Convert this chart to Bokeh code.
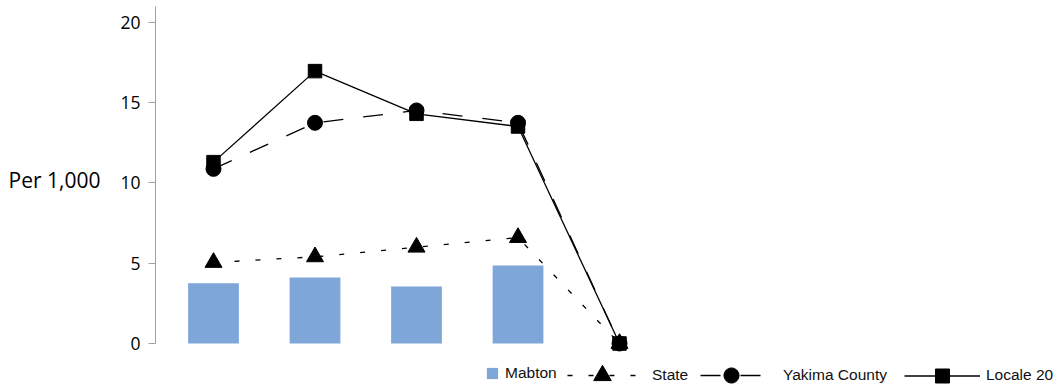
from bokeh.plotting import figure
from bokeh.models import Range1d, FixedTicker, Legend, LegendItem, Label
from bokeh.embed import file_html
from bokeh.resources import INLINE

# ---- data ----
periods = [1, 2, 3, 4, 5]
mabton = [3.76, 4.11, 3.55, 4.86, 0.0]
state = [5.05, 5.4, 6.0, 6.6, 0.0]
yakima = [10.88, 13.75, 14.52, 13.75, 0.0]
locale20 = [11.3, 16.97, 14.31, 13.52, 0.0]
y_ticks = [0, 5, 10, 15, 20]
y_label = "Per 1,000"
series_names = ["Mabton", "State", "Yakima County", "Locale 20"]

BAR = "#7ea6d8"
AXIS = "#a0a0a0"

p = figure(width=1056, height=388,
           x_range=Range1d(0.4286, 9.305), y_range=Range1d(-2.804, 21.37),
           output_backend="svg", toolbar_location=None,
           min_border_left=155, min_border_right=0, min_border_top=0, min_border_bottom=0)
p.outline_line_color = None
p.grid.visible = False
p.xaxis.visible = False

ya = p.yaxis[0]
ya.ticker = FixedTicker(ticks=y_ticks)
ya.bounds = (0, 21.0)
ya.axis_line_color = AXIS
ya.major_tick_line_color = AXIS
ya.minor_tick_line_color = None
ya.major_tick_out = 7
ya.major_tick_in = 0
ya.major_label_standoff = 8
ya.major_label_text_font = "Open Sans"
ya.major_label_text_font_size = "17.5px"
ya.major_label_text_color = "#000000"

if "axis_label_orientation" in ya.properties():
    # trailing blank line lifts the horizontal label from frame centre to the "10" level
    ya.axis_label = y_label + "\n\u00a0"
    ya.axis_label_orientation = "horizontal"
    ya.axis_label_standoff = 17
    ya.axis_label_text_font = "Open Sans"
    ya.axis_label_text_font_size = "21px"
    ya.axis_label_text_font_style = "normal"
    ya.axis_label_text_color = "#000000"
    ya.axis_label_text_line_height = 1.05
else:
    p.add_layout(Label(x=8, y=10, x_units="screen", y_units="data", text=y_label,
                       text_font="Open Sans", text_font_size="21px", text_color="#000000",
                       text_align="left", text_baseline="middle"))

bars = p.vbar(x=periods, top=mabton, width=0.5, bottom=0, fill_color=BAR, line_color=None)

state_line = p.line(periods, state, line_color="black", line_width=1.3, line_dash="5 16")
yak_line = p.line(periods, yakima, line_color="black", line_width=1.3, line_dash="20 20")
loc_line = p.line(periods, locale20, line_color="black", line_width=1.3)

state_pts = p.scatter(periods, state, marker="triangle", size=17, fill_color="black", line_color="black")
yak_pts = p.scatter(periods, yakima, marker="circle", size=15, fill_color="black", line_color="black")
loc_pts = p.scatter(periods, locale20, marker="square", size=13.5, fill_color="black", line_color="black")


def make_legend(name, renderers, x, gw, gh, standoff):
    lg = Legend(items=[LegendItem(label=name, renderers=renderers)],
                location=(x, 13 - gh / 2), glyph_width=gw, glyph_height=gh,
                label_height=gh, label_standoff=standoff, padding=0, margin=0,
                spacing=0, border_line_color=None, background_fill_alpha=0,
                label_text_font="Liberation Sans", label_text_font_size="15.5px",
                label_text_color="#111111")
    p.add_layout(lg)


make_legend(series_names[0], [bars], 330, 14, 14, 6)
make_legend(series_names[1], [state_line, state_pts], 412, 70, 44, 15)
make_legend(series_names[2], [yak_line, yak_pts], 545, 62, 38, 21)
make_legend(series_names[3], [loc_line, loc_pts], 749, 76, 35, 6)

open("out.html", "w").write(file_html(p, INLINE))
